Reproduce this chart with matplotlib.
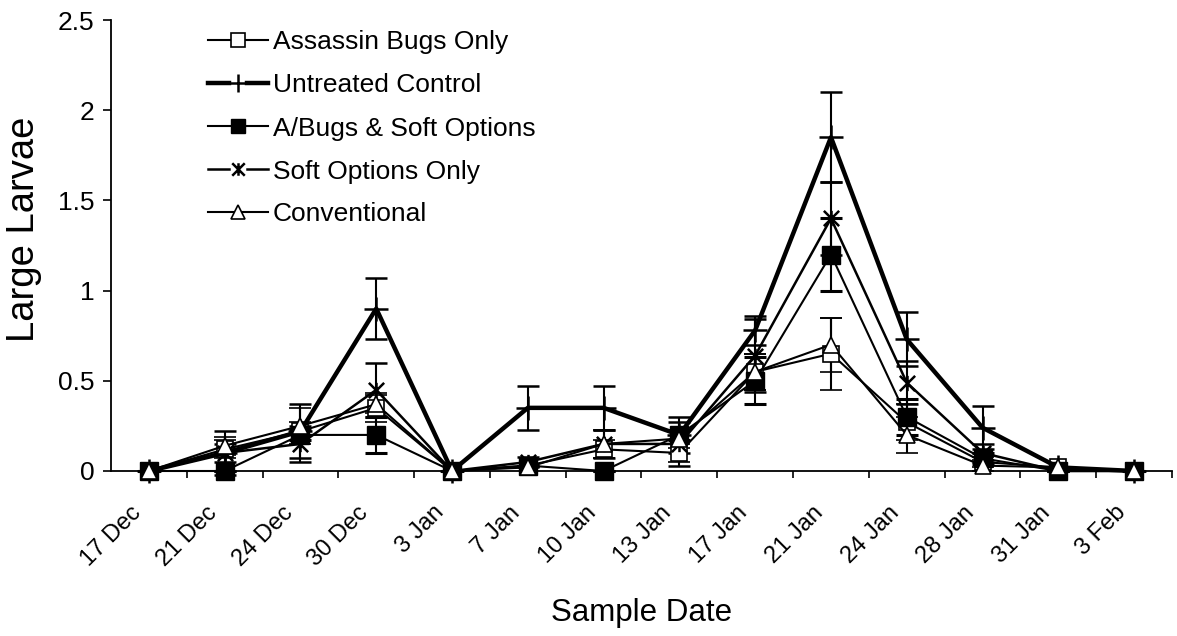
import matplotlib
matplotlib.use("Agg")
import matplotlib.pyplot as plt
import numpy as np
from matplotlib.path import Path
from matplotlib.lines import Line2D
from matplotlib.transforms import ScaledTranslation

plt.rcParams['font.family'] = ['Liberation Sans', 'DejaVu Sans']

dates = ['17 Dec', '21 Dec', '24 Dec', '30 Dec', '3 Jan', '7 Jan', '10 Jan',
         '13 Jan', '17 Jan', '21 Jan', '24 Jan', '28 Jan', '31 Jan', '3 Feb']

assassin = [0, 0.12, 0.22, 0.35, 0, 0.03, 0.12, 0.10, 0.55, 0.65, 0.27, 0.05, 0.02, 0]
assassin_err = [0, 0.05, 0.05, 0.08, 0, 0, 0.05, 0.05, 0.10, 0.20, 0.10, 0.03, 0, 0]

untreated = [0, 0.10, 0.22, 0.90, 0, 0.35, 0.35, 0.20, 0.78, 1.85, 0.73, 0.24, 0.02, 0]
untreated_err = [0, 0.05, 0.15, 0.17, 0, 0.12, 0.12, 0.10, 0.08, 0.25, 0.15, 0.12, 0, 0]

bugs_soft = [0, 0, 0.20, 0.20, 0, 0.03, 0, 0.20, 0.50, 1.20, 0.30, 0.07, 0, 0]
bugs_soft_err = [0, 0, 0.03, 0.10, 0, 0, 0, 0.03, 0.13, 0.20, 0.10, 0.03, 0, 0]

soft = [0, 0.10, 0.15, 0.45, 0, 0.05, 0.15, 0.15, 0.64, 1.40, 0.49, 0.10, 0, 0]
soft_err = [0, 0.12, 0.10, 0.15, 0, 0.03, 0.08, 0.12, 0.20, 0.20, 0.12, 0.05, 0, 0]

conventional = [0, 0.14, 0.25, 0.37, 0, 0.02, 0.15, 0.18, 0.55, 0.70, 0.20, 0.03, 0.02, 0]
conventional_err = [0, 0.05, 0.10, 0.05, 0, 0, 0.08, 0.05, 0.10, 0.15, 0.10, 0.03, 0, 0]

names = ['Assassin Bugs Only', 'Untreated Control', 'A/Bugs & Soft Options',
         'Soft Options Only', 'Conventional']

# asterisk-like marker: X with vertical bar
star = Path([(-1, -1), (1, 1), (-1, 1), (1, -1), (0, -1), (0, 1)],
            [Path.MOVETO, Path.LINETO, Path.MOVETO, Path.LINETO, Path.MOVETO, Path.LINETO])

W, H = 1177, 636
fig = plt.figure(figsize=(W/100, H/100), dpi=100)
ax = fig.add_axes([111/W, 1-471/H, (1172-111)/W, (471-20)/H])

x = np.arange(len(dates))

styles = [
    dict(marker='s', mfc='white', mec='black', ms=12, mew=1.2, lw=1.5),
    dict(marker='+', mec='black', ms=17, mew=1.8, lw=3.2),
    dict(marker='s', mfc='black', mec='black', ms=13, lw=1.5),
    dict(marker=star, mec='black', mfc='none', ms=11, mew=1.8, lw=1.8),
    dict(marker='^', mfc='white', mec='black', ms=12, mew=1.2, lw=1.5),
]
data = [(assassin, assassin_err), (untreated, untreated_err), (bugs_soft, bugs_soft_err),
        (soft, soft_err), (conventional, conventional_err)]

for (vals, err), st in zip(data, styles):
    c = ax.errorbar(x, vals, yerr=err, color='black', ecolor='black', elinewidth=1.5,
                    capsize=8, capthick=2.2, clip_on=False, zorder=3, **st)
    c.lines[0].set_clip_on(False)

ax.set_xlim(-0.5, len(dates) - 0.5)
ax.set_ylim(0, 2.5)
ax.set_yticks([0, 0.5, 1, 1.5, 2, 2.5])
ax.set_yticklabels(['0', '0.5', '1', '1.5', '2', '2.5'], fontsize=19)
ax.tick_params(axis='y', direction='out', length=6, width=1.2, pad=6)

ax.set_xticks(x)
ax.set_xticklabels(dates, rotation=45, ha='right', rotation_mode='anchor', fontsize=17)
ax.set_xticks(np.arange(len(dates)) + 0.5, minor=True)
ax.tick_params(axis='x', which='major', length=0, pad=22)
ax.tick_params(axis='x', which='minor', direction='out', length=5, width=1.2)
off = ScaledTranslation(-19/100, 0, fig.dpi_scale_trans)
for lab in ax.get_xticklabels():
    lab.set_transform(lab.get_transform() + off)

for s in ['top', 'right']:
    ax.spines[s].set_visible(False)
ax.spines['left'].set_linewidth(1.3)
ax.spines['bottom'].set_linewidth(1.3)

fig.text(642/W, 1-613/H, 'Sample Date', fontsize=22.5, ha='center', va='center')
fig.text(24/W, 1-229/H, 'Large Larvae', fontsize=27.5, ha='center', va='center', rotation=90)

# manual legend
leg_ms = [10, 13, 10, 9, 10]
gaps = [False, True, False, True, False]
for i, (name, st) in enumerate(zip(names, styles)):
    yy = 1 - (40 + 43*i)/H
    lw = st['lw']
    if gaps[i]:
        fig.add_artist(Line2D([208/W, 229/W], [yy, yy], color='black', lw=lw))
        fig.add_artist(Line2D([247/W, 268/W], [yy, yy], color='black', lw=lw))
    else:
        fig.add_artist(Line2D([208/W, 268/W], [yy, yy], color='black', lw=lw))
    mk = {k: v for k, v in st.items() if k in ('marker', 'mfc', 'mec', 'mew')}
    fig.add_artist(Line2D([238/W], [yy], ls='none', ms=leg_ms[i], **mk))
    fig.text(273/W, yy, name, fontsize=19, ha='left', va='center_baseline')

fig.savefig('out.png', dpi=100)
